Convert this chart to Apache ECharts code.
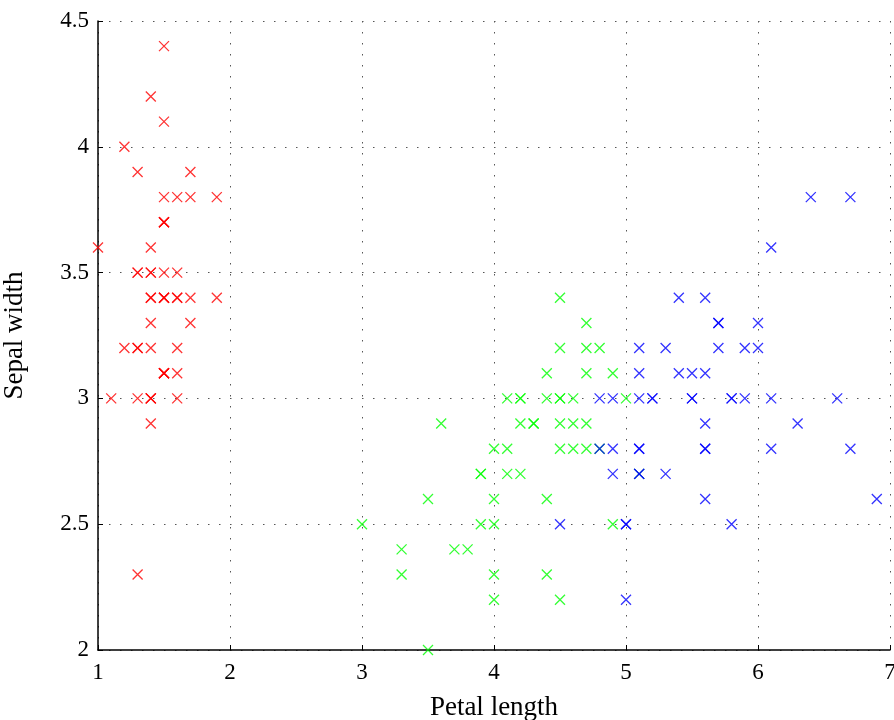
<!DOCTYPE html>
<html><head><meta charset="utf-8">
<script src="https://cdn.jsdelivr.net/npm/echarts@6/dist/echarts.min.js"></script>
<style>html,body{margin:0;padding:0;background:#fff}#c{width:894px;height:720px}</style>
</head><body><div id="c"></div>
<script>
// Iris: [petal length, sepal width]
const setosaPetalLength = [1.4,1.4,1.3,1.5,1.4,1.7,1.4,1.5,1.4,1.5,1.5,1.6,1.4,1.1,1.2,1.5,1.3,1.4,1.7,1.5,1.7,1.5,1.0,1.7,1.9,1.6,1.6,1.5,1.4,1.6,1.6,1.5,1.5,1.4,1.5,1.2,1.3,1.5,1.3,1.5,1.3,1.3,1.3,1.6,1.9,1.4,1.6,1.4,1.5,1.4];
const setosaSepalWidth = [3.5,3.0,3.2,3.1,3.6,3.9,3.4,3.4,2.9,3.1,3.7,3.4,3.0,3.0,4.0,4.4,3.9,3.5,3.8,3.8,3.4,3.7,3.6,3.3,3.4,3.0,3.4,3.5,3.4,3.2,3.1,3.4,4.1,4.2,3.1,3.2,3.5,3.1,3.0,3.4,3.5,2.3,3.2,3.5,3.8,3.0,3.8,3.2,3.7,3.3];
const versicolorPetalLength = [4.7,4.5,4.9,4.0,4.6,4.5,4.7,3.3,4.6,3.9,3.5,4.2,4.0,4.7,3.6,4.4,4.5,4.1,4.5,3.9,4.8,4.0,4.9,4.7,4.3,4.4,4.8,5.0,4.5,3.5,3.8,3.7,3.9,5.1,4.5,4.5,4.7,4.4,4.1,4.0,4.4,4.6,4.0,3.3,4.2,4.2,4.2,4.3,3.0,4.1];
const versicolorSepalWidth = [3.2,3.2,3.1,2.3,2.8,2.8,3.3,2.4,2.9,2.7,2.0,3.0,2.2,2.9,2.9,3.1,3.0,2.7,2.2,2.5,3.2,2.8,2.5,2.8,2.9,3.0,2.8,3.0,2.9,2.6,2.4,2.4,2.7,2.7,3.0,3.4,3.1,2.3,3.0,2.5,2.6,3.0,2.6,2.3,2.7,3.0,2.9,2.9,2.5,2.8];
const virginicaPetalLength = [6.0,5.1,5.9,5.6,5.8,6.6,4.5,6.3,5.8,6.1,5.1,5.3,5.5,5.0,5.1,5.3,5.5,6.7,6.9,5.0,5.7,4.9,6.7,4.9,5.7,6.0,4.8,4.9,5.6,5.8,6.1,6.4,5.6,5.1,5.6,6.1,5.6,5.5,4.8,5.4,5.6,5.1,5.1,5.9,5.7,5.2,5.0,5.2,5.4,5.1];
const virginicaSepalWidth = [3.3,2.7,3.0,2.9,3.0,3.0,2.5,2.9,2.5,3.6,3.2,2.7,3.0,2.5,2.8,3.2,3.0,3.8,2.6,2.2,3.2,2.8,2.8,2.7,3.3,3.2,2.8,3.0,2.8,3.0,2.8,3.8,2.8,2.8,2.6,3.0,3.4,3.1,3.0,3.1,3.1,3.1,2.7,3.2,3.3,3.0,2.5,3.0,3.4,3.0];
const xTitle = 'Petal length', yTitle = 'Sepal width';

const zip = (a,b) => a.map((v,i)=>[v,b[i]]);
const cross = 'path://M0,0L10,10M10,0L0,10';
const font = "'Liberation Serif', 'DejaVu Serif', serif";
function ser(data,color){return {type:'scatter',data,symbol:cross,symbolSize:10,
  itemStyle:{color:'rgba(0,0,0,0)',borderColor:color,borderWidth:1.3},emphasis:{disabled:true},animation:false};}
const grid = {lineStyle:{color:'#555',type:[1.5,9.5],width:1}};
const chart = echarts.init(document.getElementById('c'));
chart.setOption({
  animation:false,
  grid:{left:98,right:4,top:21,bottom:70,containLabel:false,outerBoundsMode:'none'},
  xAxis:{type:'value',min:1,max:7,interval:1,name:xTitle,nameLocation:'middle',nameGap:44,
    nameTextStyle:{fontFamily:font,fontSize:27,color:'#000'},
    axisLine:{onZero:false,lineStyle:{color:'#000',width:1.5}},
    axisTick:{inside:true,length:5,lineStyle:{color:'#000'}},
    axisLabel:{fontFamily:font,fontSize:23,color:'#000',margin:11},
    splitLine:Object.assign({show:true},grid)},
  yAxis:{type:'value',min:2,max:4.5,interval:0.5,name:yTitle,nameLocation:'middle',nameGap:70,
    nameTextStyle:{fontFamily:font,fontSize:27,color:'#000'},
    axisLine:{show:true,onZero:false,lineStyle:{color:'#000',width:1.5}},
    axisTick:{show:true,inside:true,length:5,lineStyle:{color:'#000'}},
    axisLabel:{fontFamily:font,fontSize:23,color:'#000',margin:9},
    splitLine:Object.assign({show:true},grid)},
  series:[ser(zip(setosaPetalLength,setosaSepalWidth),'#ff0000'),
          ser(zip(versicolorPetalLength,versicolorSepalWidth),'#00ff00'),
          ser(zip(virginicaPetalLength,virginicaSepalWidth),'#0000ff')]
});
</script></body></html>
